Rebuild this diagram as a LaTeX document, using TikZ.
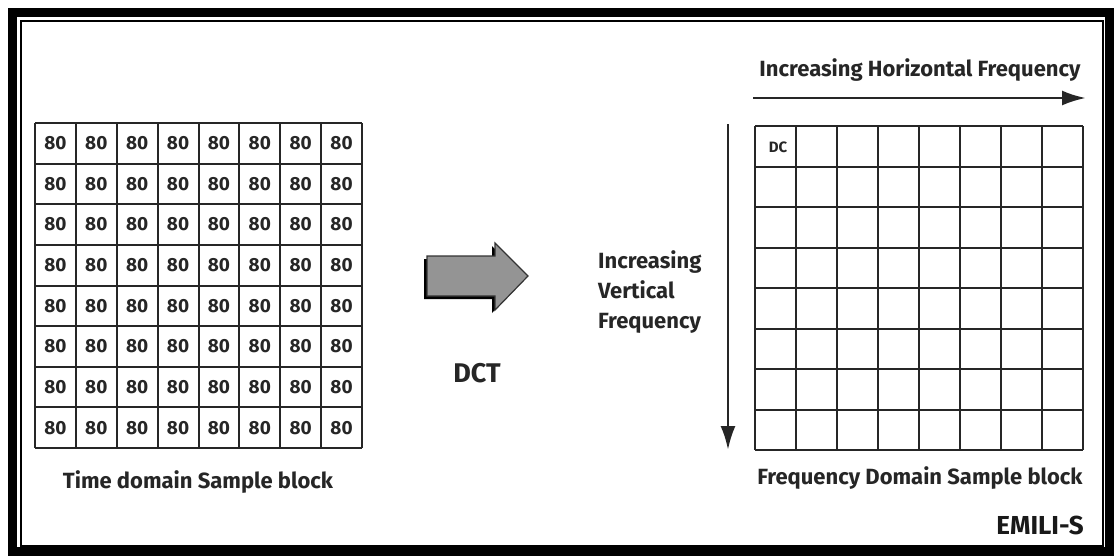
\documentclass[tikz,border=0pt]{standalone}
\usepackage{fontspec}
\setmainfont{Fira Sans}
\usetikzlibrary{arrows.meta}
\begin{document}
\begin{tikzpicture}[x=1pt,y=-1pt,
 gridline/.style={line width=2pt,draw=black!85},
 lbl/.style={font=\fontsize{22}{30}\selectfont\bfseries, text=black!85, inner sep=0pt},
 num/.style={font=\fontsize{19}{19}\selectfont\bfseries, text=black!85, inner sep=0pt},
 axisarrow/.style={line width=2.8pt, draw=black!85, -{Latex[length=24pt,width=15pt]}}]
\useasboundingbox (0,0) rectangle (1117,558);
\fill[white] (0,0) rectangle (1117,558);
% frame
\draw[line width=9pt] (12.5,12.5) rectangle (1109,551);
\draw[line width=1.5pt] (21,21) rectangle (1103,546);
% left grid
\foreach \i in {0,...,8} {
  \draw[gridline] ({35+\i*40.875},123) -- ({35+\i*40.875},448);
  \draw[gridline] (35,{123+\i*40.625}) -- (362,{123+\i*40.625});
}
\foreach \r in {1,...,8} \foreach \c in {1,...,8}
  \node[num] (t\r\c) at ({35+(\c-0.5)*40.875},{123+(\r-0.5)*40.625}) {80};
% right grid
\foreach \i in {0,...,8} {
  \draw[gridline] ({755+\i*41},126) -- ({755+\i*41},450);
  \draw[gridline] (755,{126+\i*40.5}) -- (1083,{126+\i*40.5});
}
\node[font=\fontsize{15}{15}\selectfont\bfseries, text=black!85, inner sep=0pt] (dc) at (778,147) {DC};
% axis arrows
\coordinate (hs) at (753,98);
\coordinate (he) at (1086,98);
\draw[axisarrow] (hs) -- (he);
\coordinate (vs) at (728,124);
\coordinate (ve) at (728,450);
\draw[axisarrow] (vs) -- (ve);
% block arrow (shadow + gray body)
\fill[black] (424,259) -- (492,259) -- (492,246) -- (525,279) -- (492,313) -- (492,299) -- (424,299) -- cycle;
\filldraw[fill=black!42, draw=black!80, line width=1.2pt, line join=miter]
  (427,256) -- (495,256) -- (495,243) -- (528,276) -- (495,310) -- (495,296) -- (427,296) -- cycle;
% labels
\node[lbl] (hf) at (920,70) {Increasing Horizontal Frequency};
\node[lbl, align=left, anchor=north west] (vf) at (598,250) {Increasing\\Vertical\\Frequency};
\node[font=\fontsize{27}{27}\selectfont\bfseries, text=black!85, inner sep=0pt] (dct) at (477,373) {DCT};
\node[lbl] (tl) at (198,482) {Time domain Sample block};
\node[lbl] (fl) at (920,478) {Frequency Domain Sample block};
\node[font=\fontsize{26}{26}\selectfont\bfseries, text=black!90, inner sep=0pt] (em) at (1040,525) {EMILI-S};
\end{tikzpicture}
\end{document}
